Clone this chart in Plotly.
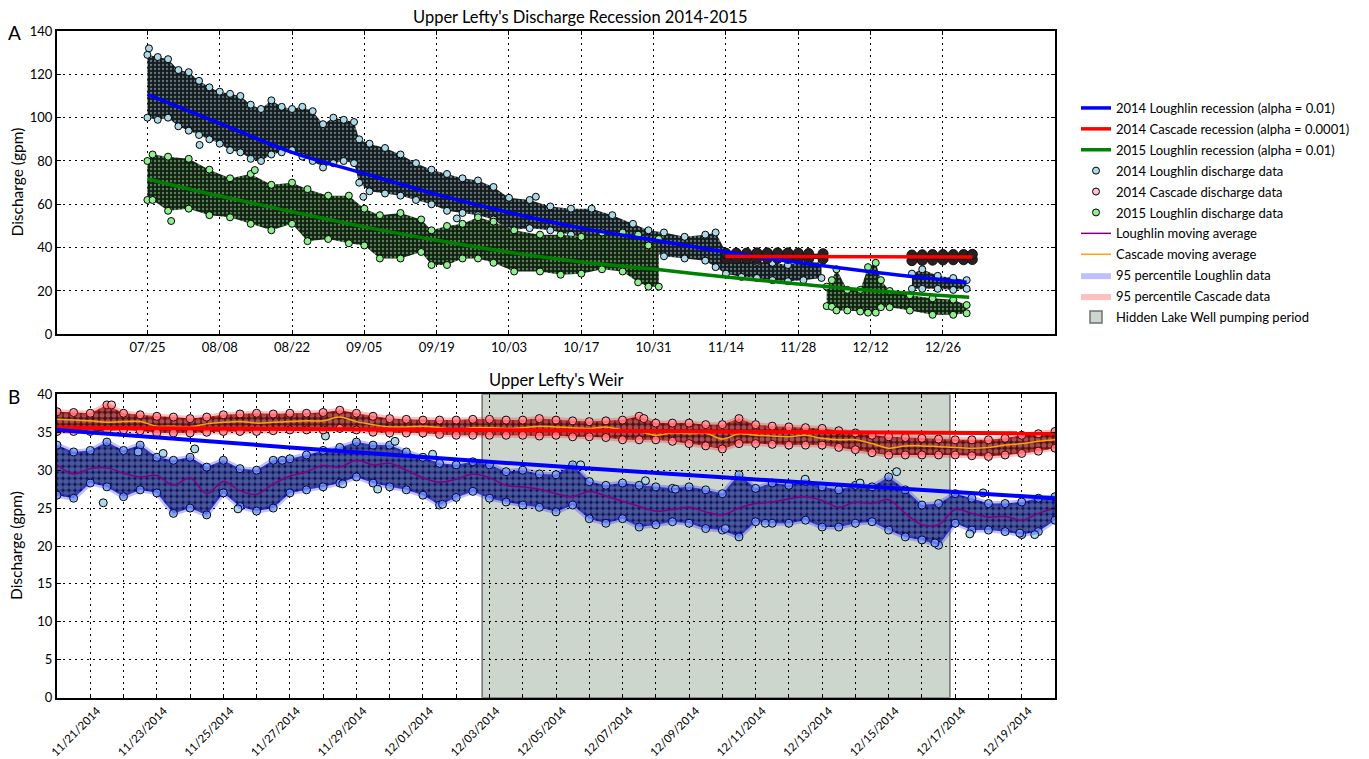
import numpy as np
import pandas as pd
import plotly.graph_objects as go

FONT = "Lato"
W, H = 1369, 759

# ===================== Panel A (x = days after 07/25) =====================
a_tick_labels = ["07/25", "08/08", "08/22", "09/05", "09/19", "10/03",
                 "10/17", "10/31", "11/14", "11/28", "12/12", "12/26"]
a_tick_step_days = 14

rec14_days = [0, 14, 28, 42, 56, 70, 84, 98, 112, 126, 140, 158.6]
rec14_vals = [110.8, 97.4, 84.0, 74.2, 64.6, 56.2, 49.0, 43.5, 38.0, 33.1, 28.9, 24.0]
rec15_days = [0, 14, 28, 42, 56, 70, 84, 98, 112, 126, 140, 159.1]
rec15_vals = [71.7, 63.8, 56.6, 49.6, 43.4, 37.9, 33.4, 30.1, 26.4, 23.2, 20.2, 17.1]
casc_rec_days = [111.9, 159.7]
casc_rec_vals = [35.9, 35.7]

# 2014 Loughlin discharge cloud (low / high envelope read per date)
l14a_days = [0, 2, 4, 6, 8, 10, 12, 14, 16, 18, 20, 22, 24, 26, 28, 30, 32, 34, 36, 38,
             40, 41, 43, 46, 49, 52, 55, 58, 61, 64, 67, 70, 74, 78, 82, 86, 90, 94, 97, 100,
             104, 108, 110, 112, 115, 118, 121, 124, 127, 130.5]
l14a_lo = [100, 99, 100, 96, 94, 92, 90, 88, 85, 84, 81, 80, 83, 84, 85, 82, 80, 77, 79, 80,
           79, 70, 66, 65, 64, 62, 60, 57, 56, 55, 53, 48, 49, 48, 46, 44, 43, 41, 39, 36,
           35, 34, 31, 28, 26.5, 26, 25, 24.5, 25, 26]
l14a_hi = [129, 128, 127, 122, 121, 117, 114, 112, 111, 110, 106, 104, 108, 105, 104, 105, 103, 97, 100, 99,
           98, 90, 88, 86, 83, 79, 76, 74, 72, 71, 68, 63, 62, 59, 58, 58, 55, 51, 48, 47,
           45, 46, 47, 38, 35, 33.5, 33, 32, 33.5, 33]
l14b_days = [148, 150, 153, 156, 158.6]
l14b_lo = [21, 21, 21, 20.5, 21]
l14b_hi = [28, 30, 27, 26, 25]
l14_out_days = [0.3, 10.1, 41.8, 59.9, 75.2]
l14_out_vals = [132, 87.4, 63.5, 53.5, 63.5]

# 2014 Cascade discharge cloud
c14a_days = [112, 114, 116, 118, 120, 122, 124, 126, 128, 130.8]
c14a_lo = [34.8, 34.8, 34.8, 34.9, 35.0, 35.0, 35.0, 34.9, 34.8, 34.8]
c14a_hi = [37.4, 37.5, 37.5, 37.6, 37.6, 37.6, 37.6, 37.5, 37.3, 37.2]
c14b_days = [148, 150, 152, 154, 156, 158, 159.7]
c14b_lo = [34.0, 34.1, 34.2, 34.3, 34.4, 34.4, 34.5]
c14b_hi = [36.6, 36.7, 36.8, 36.8, 36.8, 36.8, 36.9]

# 2015 Loughlin discharge cloud
l15a_days = [0, 1, 4, 8, 12, 16, 20, 24, 28, 31, 35, 39, 42, 45, 49, 53, 55, 58, 61, 64,
             67, 71, 76, 80, 84, 88, 92, 95, 97, 99]
l15a_lo = [62, 62, 57, 58, 55, 54, 51, 48, 51, 43, 44, 42, 41, 35, 35, 38, 32, 32, 35, 35,
           33, 29, 29, 27.5, 28, 30, 29, 24, 22, 22]
l15a_hi = [80, 83, 82, 81, 76, 72, 74, 69, 70, 67, 64, 64, 58, 55, 56, 53, 48, 50, 51, 54,
           52, 48, 46, 46, 45, 47, 47, 46, 41, 44]
l15b_days = [131.5, 132.5, 133.4, 135.5, 138, 139.5, 141, 142, 143.7, 147.6, 152, 156, 158.6]
l15b_lo = [13, 12.7, 11, 11, 10.5, 10, 10, 12.5, 12.5, 11, 9, 9, 9.7]
l15b_hi = [22, 25, 30, 20.5, 20.5, 31, 33, 25, 20, 18, 16.6, 16, 13.5]
l15_out_days = [4.6, 20.8]
l15_out_vals = [52.3, 75.8]

# ===================== Panel B (x = days after 11/20/2014) =====================
b_start = "2014-11-20"
b_step_days = 0.5
lough_ma = [30.7, 29.5, 30.2, 30.3, 29.6, 29.1, 29.3, 28.0, 29.0, 26.9,
            28.5, 27.3, 26.8, 28.2, 29.2, 29.8, 30.6, 30.4, 31.3, 30.7,
            30.9, 30.0, 29.0, 28.4, 28.8, 29.5, 29.0, 28.0, 27.8, 27.5,
            26.9, 26.5, 27.2, 26.6, 25.9, 25.2, 24.6, 24.8, 25.1, 24.5,
            24.1, 25.0, 25.6, 25.8, 26.2, 26.5, 26.0, 25.1, 25.8, 25.6,
            26.1, 24.3, 22.8, 22.8, 24.8, 24.3, 23.8, 23.9, 23.4, 24.3, 25.0]
lough_lo = [26.7, 26.3, 28.3, 27.8, 26.5, 27.4, 27.0, 24.3, 25.0, 24.1,
            27.0, 25.2, 24.6, 25.0, 27.0, 27.4, 27.8, 28.3, 29.1, 28.3,
            27.8, 27.4, 26.7, 25.4, 26.4, 27.2, 26.3, 25.8, 25.4, 25.1,
            24.5, 25.4, 23.6, 23.0, 23.6, 22.5, 22.8, 23.2, 23.0, 22.3,
            22.1, 21.2, 23.2, 23.0, 23.0, 23.4, 22.5, 22.5, 23.0, 23.2,
            22.1, 21.2, 20.8, 20.1, 23.0, 22.1, 22.1, 21.9, 21.5, 21.9, 23.4]
lough_hi = [33.3, 32.4, 32.6, 33.7, 32.6, 33.3, 31.7, 31.3, 31.7, 30.4,
            31.3, 30.2, 30.0, 31.3, 31.5, 32.0, 32.6, 33.0, 33.7, 33.3,
            33.3, 32.4, 31.7, 30.9, 30.7, 31.1, 30.7, 29.8, 30.0, 29.5,
            29.4, 30.7, 28.5, 28.0, 28.3, 28.0, 27.8, 27.6, 27.8, 27.4,
            26.9, 29.4, 27.6, 28.3, 28.0, 28.5, 27.8, 27.4, 28.0, 27.8,
            29.1, 27.4, 25.4, 25.6, 26.9, 26.3, 25.6, 25.6, 25.8, 26.3, 26.5]
casc_ma = [36.7, 36.6, 36.5, 36.3, 36.4, 36.4, 35.8, 35.8, 35.7, 36.1,
           36.3, 36.4, 36.2, 36.3, 36.4, 36.5, 36.5, 37.0, 36.4, 36.0,
           35.7, 35.7, 35.8, 35.6, 35.4, 35.6, 35.6, 35.5, 35.6, 35.8,
           35.7, 35.6, 35.5, 35.7, 35.3, 35.1, 34.6, 34.9, 34.8, 34.9,
           34.1, 34.8, 34.6, 34.5, 34.4, 34.6, 34.2, 34.0, 34.0, 33.5,
           32.9, 33.2, 33.2, 33.1, 33.0, 32.9, 33.0, 33.3, 33.5, 33.8, 34.0]
casc_lo = [35.1, 35.1, 35.1, 35.2, 35.3, 35.2, 34.9, 34.9, 34.9, 35.0,
           35.1, 35.1, 35.1, 35.2, 35.3, 35.3, 35.3, 35.5, 35.3, 35.0,
           34.9, 34.9, 34.9, 34.7, 34.6, 34.6, 34.6, 34.6, 34.6, 34.5,
           34.6, 34.4, 34.4, 34.3, 34.0, 34.0, 34.0, 33.8, 33.5, 33.2,
           32.8, 33.5, 33.5, 33.4, 33.3, 33.3, 33.3, 33.0, 32.7, 32.3,
           32.0, 32.0, 32.0, 32.0, 32.0, 31.9, 31.8, 32.0, 32.2, 32.5, 32.9]
casc_hi = [37.7, 37.6, 37.5, 38.6, 37.5, 37.3, 37.1, 37.0, 36.8, 37.0,
           37.3, 37.4, 37.5, 37.4, 37.5, 37.5, 37.6, 37.9, 37.5, 37.1,
           36.8, 36.7, 36.6, 36.6, 36.6, 36.7, 36.7, 36.6, 36.6, 36.8,
           36.6, 36.5, 36.4, 36.5, 36.6, 37.1, 36.2, 36.2, 36.2, 36.0,
           36.0, 36.8, 36.0, 35.8, 35.7, 35.6, 35.5, 35.2, 34.9, 34.6,
           34.4, 34.3, 34.2, 34.1, 34.0, 34.0, 34.0, 34.2, 34.6, 34.8, 35.1]
lough_out_days = [1.39, 2.44, 3.19, 4.14, 5.44, 6.77, 8.07, 8.59, 9.64, 10.16, 11.29, 11.59,
                  15.74, 17.69, 18.59, 20.09, 21.29, 22.49, 24.14, 25.24, 26.39, 27.44,
                  27.84, 28.94, 29.39]
lough_out_vals = [25.7, 32.4, 32.2, 32.8, 24.9, 31.3, 34.5, 28.2, 27.5, 33.8, 32.1, 25.5,
                  30.7, 28.6, 27.5, 22.3, 23.0, 28.8, 28.3, 29.8, 20.4, 21.6, 27.0, 21.7, 21.5]
casc_out_days = [1.64, 17.64]
casc_out_vals = [38.6, 36.8]
b_rec_l_days = [0, 7, 15, 22, 30]
b_rec_l_vals = [35.3, 33.0, 30.5, 28.5, 26.3]
b_rec_c_days = [0, 30]
b_rec_c_vals = [35.6, 34.85]
pump_start, pump_end = "2014-12-02 18:43", "2014-12-16 20:10"
b_tick_labels = ["11/21/2014", "11/23/2014", "11/25/2014", "11/27/2014", "11/29/2014",
                 "12/01/2014", "12/03/2014", "12/05/2014", "12/07/2014", "12/09/2014",
                 "12/11/2014", "12/13/2014", "12/15/2014", "12/17/2014", "12/19/2014"]
b_range = ["2014-11-20", "2014-12-20"]

# ---------------- helpers ----------------
t0 = pd.Timestamp(b_start)
def bdates(days):
    return [t0 + pd.Timedelta(days=float(d)) for d in days]
b_days = [i * b_step_days for i in range(len(lough_ma))]
bx = bdates(b_days)

LB, PK, LG = "#add8e6", "#ffc0cb", "#90ee90"

def cloud(xs, lo, hi, fg, bg, xa, ya, size, solidity):
    xs = list(xs)
    return go.Scatter(x=xs + xs[::-1], y=list(hi) + list(lo)[::-1], fill="toself",
                      mode="none", fillcolor=bg,
                      fillpattern=dict(shape=".", fgcolor=fg, bgcolor=bg, size=size,
                                       solidity=solidity),
                      showlegend=False, hoverinfo="skip", xaxis=xa, yaxis=ya)

def dots(xs, ys, color, xa, ya, size, name=None, rank=None, show=False, edge="black"):
    return go.Scatter(x=list(xs), y=list(ys), mode="markers",
                      marker=dict(size=size, color=color, line=dict(color=edge, width=1)),
                      name=name, showlegend=show, legendrank=rank if rank else 1000,
                      legendgroup=name if name else None,
                      hoverinfo="skip", xaxis=xa, yaxis=ya)

fig = go.Figure()

# ---------- Panel A clouds ----------
for d, lo, hi in [(l14a_days, l14a_lo, l14a_hi), (l14b_days, l14b_lo, l14b_hi)]:
    fig.add_trace(cloud(d, lo, hi, LB, "#161c1e", "x", "y", 4, 0.25))
    fig.add_trace(dots(d + d, lo + hi, LB, "x", "y", 7))
fig.add_trace(dots(l14_out_days, l14_out_vals, LB, "x", "y", 7,
                   "2014 Loughlin discharge data", 4, True))
for d, lo, hi in [(c14a_days, c14a_lo, c14a_hi), (c14b_days, c14b_lo, c14b_hi)]:
    fig.add_trace(cloud(d, lo, hi, PK, "#141010", "x", "y", 4, 0.12))
    fig.add_trace(dots(d + d, lo + hi, "#2a1f21", "x", "y", 10, edge="#111111"))
fig.add_trace(dots([None], [None], PK, "x", "y", 7, "2014 Cascade discharge data", 5, True))
for d, lo, hi in [(l15a_days, l15a_lo, l15a_hi), (l15b_days, l15b_lo, l15b_hi)]:
    fig.add_trace(cloud(d, lo, hi, LG, "#152015", "x", "y", 4, 0.28))
    fig.add_trace(dots(d + d, lo + hi, LG, "x", "y", 7))
fig.add_trace(dots(l15_out_days, l15_out_vals, LG, "x", "y", 7,
                   "2015 Loughlin discharge data", 6, True))

# ---------- Panel A recession lines ----------
def line_tr(xs, ys, color, width, xa, ya, name=None, rank=1000, spline=False):
    return go.Scatter(x=list(xs), y=list(ys), mode="lines",
                      line=dict(color=color, width=width, shape="spline" if spline else "linear"),
                      name=name, showlegend=name is not None, legendrank=rank,
                      legendgroup=name if name else None, hoverinfo="skip", xaxis=xa, yaxis=ya)

fig.add_trace(line_tr(rec14_days, rec14_vals, "#0000ff", 3.5, "x", "y",
                      "2014 Loughlin recession (alpha = 0.01)", 1, True))
fig.add_trace(line_tr(casc_rec_days, casc_rec_vals, "#ff0000", 3.5, "x", "y",
                      "2014 Cascade recession (alpha = 0.0001)", 2))
fig.add_trace(line_tr(rec15_days, rec15_vals, "#008000", 3.5, "x", "y",
                      "2015 Loughlin recession (alpha = 0.01)", 3, True))

# ---------- Panel B ----------
fig.add_trace(cloud(bx, lough_lo, lough_hi, LB, "#141414", "x2", "y2", 6, 0.72))
fig.add_trace(dots(bx + bx, lough_lo + lough_hi, LB, "x2", "y2", 8))
fig.add_trace(dots(bdates(lough_out_days), lough_out_vals, LB, "x2", "y2", 8))
fig.add_trace(cloud(bx, casc_lo, casc_hi, PK, "#141414", "x2", "y2", 6, 0.55))
fig.add_trace(dots(bx + bx, casc_lo + casc_hi, PK, "x2", "y2", 8))
fig.add_trace(dots(bdates(casc_out_days), casc_out_vals, PK, "x2", "y2", 8))

for lo, hi, col in [(lough_lo, lough_hi, "rgba(0,0,255,0.25)"), (casc_lo, casc_hi, "rgba(255,0,0,0.25)")]:
    fig.add_trace(go.Scatter(x=bx + bx[::-1], y=hi + lo[::-1], fill="toself", mode="lines",
                             fillcolor=col, line=dict(color=col, width=5),
                             showlegend=False, hoverinfo="skip", xaxis="x2", yaxis="y2"))
for col, nm, rk in [("rgba(0,0,255,0.25)", "95 percentile Loughlin data", 9),
                    ("rgba(255,0,0,0.25)", "95 percentile Cascade data", 10)]:
    fig.add_trace(go.Scatter(x=[None], y=[None], fill="toself", mode="lines", fillcolor=col,
                             line=dict(width=0, color=col), name=nm, legendrank=rk,
                             legendgroup=nm, xaxis="x2", yaxis="y2"))

fig.add_trace(line_tr(bx, lough_ma, "#800080", 1.5, "x2", "y2", "Loughlin moving average", 7, True))
fig.add_trace(line_tr(bx, casc_ma, "#ffa500", 1.5, "x2", "y2", "Cascade moving average", 8, True))
fig.add_trace(line_tr(bdates(b_rec_c_days), b_rec_c_vals, "#ff0000", 4, "x2", "y2"))
fig.add_trace(line_tr(bdates(b_rec_l_days), b_rec_l_vals, "#0000ff", 4, "x2", "y2", spline=True))

fig.add_shape(type="rect", xref="x2", yref="y2", x0=pump_start, x1=pump_end, y0=0, y1=40,
              fillcolor="#cdd6cd", line=dict(color="#707070", width=1.5), layer="below",
              showlegend=True, name="Hidden Lake Well pumping period", legendrank=11,
              legendgroup="pump")

# ---------------- axes ----------------
grid = dict(showgrid=True, gridcolor="black", gridwidth=1, griddash="2px,4px",
            showline=True, linecolor="black", linewidth=2, mirror="allticks",
            ticks="inside", ticklen=4, tickwidth=1, tickcolor="black", zeroline=False,
            automargin=False, tickfont=dict(family=FONT, size=13, color="black"))

XD = [57 / W, 1055 / W]
a_tickvals = [i * a_tick_step_days for i in range(len(a_tick_labels))]
b_ticks = pd.date_range(b_range[0], b_range[1], freq="D")
b_ticktext = [t.strftime("%m/%d/%Y") if t.strftime("%m/%d/%Y") in b_tick_labels else "" for t in b_ticks]

gridb = dict(grid)
gridb["tickfont"] = dict(family=FONT, size=11.5, color="black")

fig.update_layout(
    width=W, height=H, margin=dict(l=0, r=0, t=0, b=0), autosize=False,
    paper_bgcolor="white", plot_bgcolor="white",
    font=dict(family=FONT, size=13, color="black"),
    xaxis=dict(domain=XD, anchor="y", range=[-17.5, 175.7], tickvals=a_tickvals,
               ticktext=a_tick_labels, **grid),
    yaxis=dict(domain=[1 - 334.3 / H, 1 - 31 / H], anchor="x", range=[0, 140], dtick=20, **grid),
    xaxis2=dict(domain=XD, anchor="y2", type="date", range=b_range, tickvals=list(b_ticks),
                ticktext=b_ticktext, tickangle=-45, ticklabelshift=7, **gridb),
    yaxis2=dict(domain=[1 - 697.7 / H, 1 - 394.3 / H], anchor="x2", range=[0, 40], dtick=5, **grid),
    legend=dict(x=1076 / W, y=1 - 93 / H, xanchor="left", yanchor="top",
                font=dict(family=FONT, size=13, color="black"), bgcolor="rgba(0,0,0,0)",
                traceorder="grouped", tracegroupgap=1, itemsizing="trace"),
    showlegend=True,
)

def ann(text, px, py, size, angle=0, xanchor="center"):
    fig.add_annotation(text=text, x=px / W, y=1 - py / H, xref="paper", yref="paper",
                       showarrow=False, textangle=angle, xanchor=xanchor, yanchor="middle",
                       font=dict(family=FONT, size=size, color="black"))

ann("Upper Lefty's Discharge Recession 2014-2015", 580, 17, 16.5)
ann("Upper Lefty's Weir", 556, 380, 16.5)
ann("A", 14, 33, 19)
ann("B", 14, 396, 19)
ann("Discharge (gpm)", 16, 182.5, 15.5, -90)
ann("Discharge (gpm)", 16, 546, 15.5, -90)

fig.write_html("out.html")
